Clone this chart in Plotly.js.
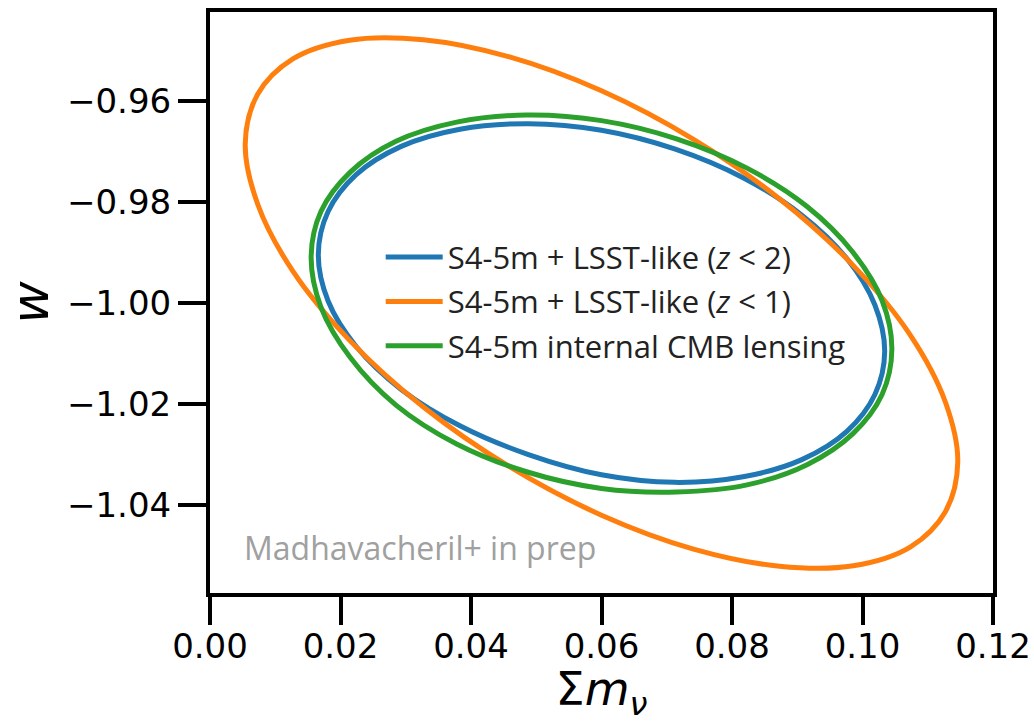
<!DOCTYPE html>
<html>
<head>
<meta charset="utf-8">
<script src="https://cdn.plot.ly/plotly-3.0.1.min.js"></script>
<style>html,body{margin:0;padding:0;background:#fff;}#chart{width:1034px;height:723px;}</style>
</head>
<body>
<div id="chart"></div>
<script>
// Contour points (sum m_nu, w)
const seriesNames = [
  "S4-5m + LSST-like (<i>z</i> < 2)",
  "S4-5m + LSST-like (<i>z</i> < 1)",
  "S4-5m internal CMB lensing"
];
const seriesColors = ["#1f77b4", "#ff7f0e", "#2ca02c"];

const blueX = [0.1034,0.1019,0.0976,0.0907,0.0817,0.0712,0.0600,0.0488,0.0383,0.0293,0.0224,0.0181,0.0166,0.0181,0.0224,0.0293,0.0383,0.0488,0.0600,0.0712,0.0817,0.0907,0.0976,0.1019,0.1034];
const blueY = [-1.0096,-1.0181,-1.0254,-1.0310,-1.0344,-1.0355,-1.0340,-1.0300,-1.0243,-1.0171,-1.0086,-0.9996,-0.9904,-0.9819,-0.9746,-0.9690,-0.9656,-0.9645,-0.9658,-0.9695,-0.9752,-0.9826,-0.9912,-1.0004,-1.0096];

const orangeX = [0.1146,0.1127,0.1073,0.0986,0.0873,0.0741,0.0600,0.0459,0.0327,0.0214,0.0127,0.0073,0.0054,0.0073,0.0127,0.0214,0.0327,0.0459,0.0600,0.0741,0.0873,0.0986,0.1073,0.1127,0.1146];
const orangeY = [-1.0315,-1.0413,-1.0483,-1.0520,-1.0521,-1.0487,-1.0420,-1.0324,-1.0206,-1.0074,-0.9937,-0.9804,-0.9685,-0.9587,-0.9517,-0.9480,-0.9479,-0.9513,-0.9580,-0.9676,-0.9794,-0.9926,-1.0063,-1.0196,-1.0315];

const greenX = [0.1045,0.1030,0.0985,0.0915,0.0823,0.0715,0.0600,0.0485,0.0378,0.0285,0.0215,0.0170,0.0155,0.0170,0.0215,0.0285,0.0378,0.0485,0.0600,0.0715,0.0823,0.0915,0.0985,0.1030,0.1045];
const greenY = [-1.0091,-1.0181,-1.0259,-1.0320,-1.0360,-1.0374,-1.0367,-1.0334,-1.0279,-1.0202,-1.0108,-1.0008,-0.9909,-0.9819,-0.9741,-0.9680,-0.9642,-0.9628,-0.9639,-0.9675,-0.9733,-0.9809,-0.9899,-0.9995,-1.0091];

const xTicks = [0.00, 0.02, 0.04, 0.06, 0.08, 0.10, 0.12];
const xTickLabels = ["0.00", "0.02", "0.04", "0.06", "0.08", "0.10", "0.12"];
const yTicks = [-1.04, -1.02, -1.00, -0.98, -0.96];
const yTickLabels = ["\u22121.04", "\u22121.02", "\u22121.00", "\u22120.98", "\u22120.96"];
const watermark = "Madhavacheril+ in prep";

const xs = [blueX, orangeX, greenX];
const ys = [blueY, orangeY, greenY];

const traces = xs.map((x, i) => ({
  type: "scatter",
  mode: "lines",
  x: x,
  y: ys[i],
  name: seriesNames[i],
  legendgroup: "g" + i,
  line: {color: seriesColors[i], width: 5, shape: "spline", smoothing: 1},
  hoverinfo: "skip"
}));

const axisCommon = {
  showline: true, linewidth: 4, linecolor: "#000", mirror: true,
  ticks: "outside", ticklen: 28, tickwidth: 4, tickcolor: "#000",
  showgrid: false, zeroline: false,
  tickfont: {family: "DejaVu Sans", size: 34, color: "#000"}
};

const layout = {
  width: 1034, height: 723,
  margin: {l: 210, r: 41, t: 12, b: 130, pad: 0},
  paper_bgcolor: "#fff", plot_bgcolor: "#fff",
  showlegend: true,
  legend: {
    x: 0.218, y: 0.624, xanchor: "left", yanchor: "top",
    bgcolor: "rgba(0,0,0,0)", borderwidth: 0,
    font: {family: "Open Sans", size: 31, color: "#222"},
    tracegroupgap: 1, itemwidth: 57, traceorder: "grouped"
  },
  xaxis: Object.assign({}, axisCommon, {
    range: [0, 0.12], tickvals: xTicks, ticktext: xTickLabels,
    ticklabelstandoff: -8,
    title: {text: "\u03a3<i>m</i><sub><i>\u03bd</i></sub>", font: {family: "DejaVu Sans", size: 46, color: "#000"}, standoff: 28}
  }),
  yaxis: Object.assign({}, axisCommon, {
    range: [-1.0574, -0.9424], tickvals: yTicks, ticktext: yTickLabels,
    title: {text: "<i>w</i>", font: {family: "DejaVu Sans", size: 52, color: "#000"}, standoff: 12}
  }),
  annotations: [{
    text: watermark, xref: "paper", yref: "paper",
    x: 0.041, y: 0.078, xanchor: "left", yanchor: "middle",
    showarrow: false, font: {family: "Open Sans", size: 32, color: "#a0a0a0"}
  }]
};

Plotly.newPlot("chart", traces, layout, {displayModeBar: false, staticPlot: true});
</script>
</body>
</html>
